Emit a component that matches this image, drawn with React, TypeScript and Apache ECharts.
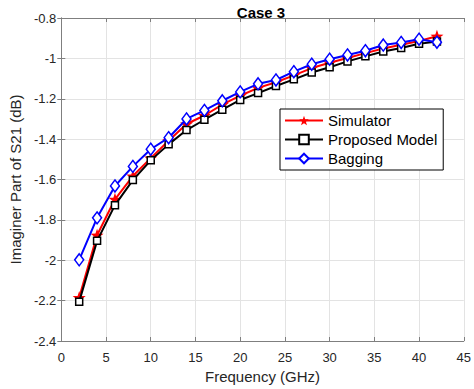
import React, { useEffect, useRef } from "react";
import * as echarts from "echarts";

const freq = [2, 4, 6, 8, 10, 12, 14, 16, 18, 20, 22, 24, 26, 28, 30, 32, 34, 36, 38, 40, 42];
const simulator = [-2.185, -1.876, -1.698, -1.583, -1.494, -1.408, -1.325, -1.283, -1.229, -1.185, -1.146, -1.118, -1.084, -1.048, -1.022, -0.998, -0.974, -0.951, -0.933, -0.914, -0.89];
const proposed = [-2.205, -1.904, -1.727, -1.603, -1.505, -1.426, -1.355, -1.304, -1.254, -1.206, -1.172, -1.137, -1.104, -1.07, -1.044, -1.015, -0.99, -0.966, -0.949, -0.928, -0.917];
const bagging = [-1.998, -1.79, -1.632, -1.535, -1.45, -1.393, -1.3, -1.258, -1.21, -1.166, -1.126, -1.107, -1.066, -1.029, -1.004, -0.983, -0.962, -0.934, -0.921, -0.905, -0.92];

const STAR = "path://M0,-10 L2.35,-3.24 L9.51,-3.09 L3.8,1.24 L5.88,8.09 L0,4 L-5.88,8.09 L-3.8,1.24 L-9.51,-3.09 L-2.35,-3.24 Z";
const FONT = "Liberation Sans";

export default function App() {
  const ref = useRef<HTMLDivElement>(null);
  useEffect(() => {
    const chart = echarts.init(ref.current!, undefined, { renderer: "svg" });
    const pts = (ys: number[]) => freq.map((x, i) => [x, ys[i]]);
    const fmt = (v: number) => String(Math.round(v * 10) / 10);
    const axisCommon = {
      axisLine: { show: true, lineStyle: { color: "#7f7f7f", width: 1 } },
      axisTick: { show: true, inside: true, length: 4, lineStyle: { color: "#7f7f7f" } },
    };
    chart.setOption({
      animation: false,
      backgroundColor: "#ffffff",
      textStyle: { fontFamily: FONT },
      title: {
        text: "Case 3",
        left: 256,
        textAlign: "center",
        top: 0,
        textStyle: { fontFamily: FONT, fontWeight: "bold", fontSize: 15, color: "#000" },
      },
      grid: { left: 47, right: 9, top: 18, bottom: 43, show: false },
      legend: {
        orient: "vertical",
        left: 280,
        top: 109,
        backgroundColor: "#fff",
        borderColor: "#000",
        borderWidth: 1,
        borderRadius: 0,
        padding: [4, 6, 4, 4],
        itemGap: 4,
        itemWidth: 38,
        itemHeight: 12,
        textStyle: { fontFamily: FONT, fontSize: 15, color: "#000" },
        data: ["Simulator", "Proposed Model", "Bagging"],
      },
      xAxis: [
        {
          type: "value",
          min: 0,
          max: 45,
          interval: 5,
          name: "Frequency (GHz)",
          nameLocation: "middle",
          nameGap: 28,
          nameTextStyle: { fontFamily: FONT, fontSize: 15, color: "#262626" },
          axisLabel: { fontFamily: FONT, fontSize: 13, color: "#262626", margin: 10 },
          splitLine: { show: true, lineStyle: { color: "#e3e3e3", width: 1 } },
          ...axisCommon,
        },
        {
          type: "value",
          position: "top",
          min: 0,
          max: 45,
          interval: 5,
          axisLabel: { show: false },
          splitLine: { show: false },
          ...axisCommon,
        },
      ],
      yAxis: [
        {
          type: "value",
          min: -2.4,
          max: -0.8,
          interval: 0.2,
          name: "Imaginer Part of S21 (dB)",
          nameLocation: "middle",
          nameGap: 32,
          nameTextStyle: { fontFamily: FONT, fontSize: 15, color: "#262626" },
          axisLabel: { fontFamily: FONT, fontSize: 13, color: "#262626", margin: 5, formatter: fmt },
          splitLine: { show: true, lineStyle: { color: "#e3e3e3", width: 1 } },
          ...axisCommon,
        },
        {
          type: "value",
          position: "right",
          min: -2.4,
          max: -0.8,
          interval: 0.2,
          axisLabel: { show: false },
          splitLine: { show: false },
          ...axisCommon,
        },
      ],
      series: [
        {
          name: "Simulator",
          type: "line",
          data: pts(simulator),
          symbol: STAR,
          symbolSize: 13,
          showAllSymbol: true,
          lineStyle: { color: "#ff0000", width: 2 },
          itemStyle: { color: "#ff0000", borderColor: "#ff0000", borderWidth: 0 },
          z: 2,
        },
        {
          name: "Proposed Model",
          type: "line",
          data: pts(proposed),
          symbol: "rect",
          symbolSize: 7,
          showAllSymbol: true,
          lineStyle: { color: "#000000", width: 2 },
          itemStyle: { color: "#ffffff", borderColor: "#000000", borderWidth: 1.5 },
          z: 3,
        },
        {
          name: "Bagging",
          type: "line",
          data: pts(bagging),
          symbol: "diamond",
          symbolSize: [9, 12],
          showAllSymbol: true,
          lineStyle: { color: "#0000ff", width: 2 },
          itemStyle: { color: "#ffffff", borderColor: "#0000ff", borderWidth: 1.5 },
          z: 4,
        },
      ],
    });
    return () => chart.dispose();
  }, []);
  return <div ref={ref} style={{ width: 474, height: 389, position: "absolute", left: 0, top: 0 }} />;
}
